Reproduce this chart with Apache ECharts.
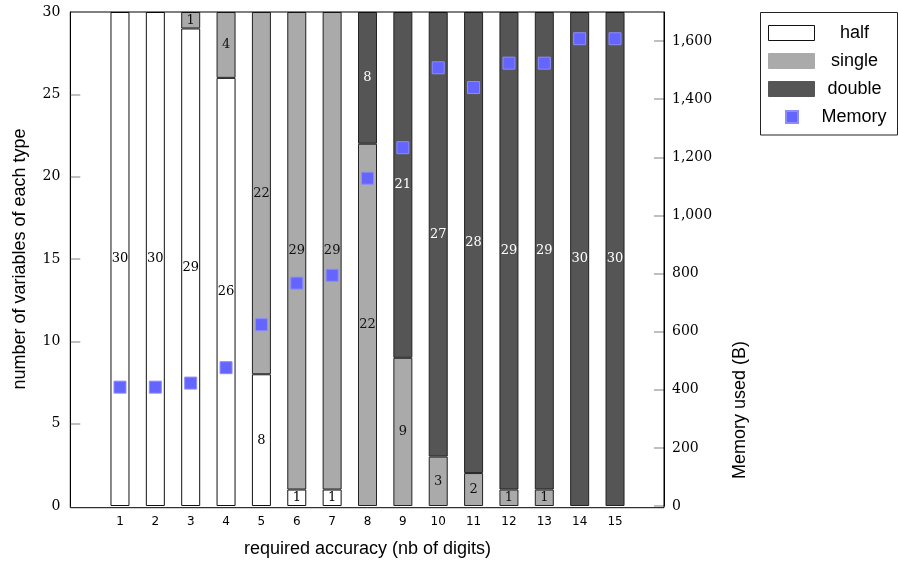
<!DOCTYPE html>
<html>
<head>
<meta charset="utf-8">
<script src="https://cdn.jsdelivr.net/npm/echarts@6/dist/echarts.min.js"></script>
<style>
html,body{margin:0;padding:0;background:#fff;}
#chart{width:898px;height:563px;}
</style>
</head>
<body>
<div id="chart"></div>
<script>
const categories = ['1','2','3','4','5','6','7','8','9','10','11','12','13','14','15'];
const halfCounts   = [30,30,29,26,8,1,1,0,0,0,0,0,0,0,0];
const singleCounts = [0,0,1,4,22,29,29,22,9,3,2,1,1,0,0];
const doubleCounts = [0,0,0,0,0,0,0,8,21,27,28,29,29,30,30];
const memoryBytes  = [409,409,423,476,624,767,794,1128,1233,1508,1440,1524,1524,1608,1608];
const countTicks   = [0,5,10,15,20,25,30];
const memoryTicks  = [0,200,400,600,800,1000,1200,1400,1600];

const serif = 'DejaVu Serif';
const sans = 'Liberation Sans';

function barSeries(name, arr, fill, border, labelColor){
  return {
    name: name, type: 'bar', stack: 'types', barWidth: 19,
    data: arr.map(v => v > 0 ? v : {value: v, itemStyle: {borderWidth: 0, opacity: 0}}),
    itemStyle: {color: fill, borderColor: border, borderWidth: 1},
    label: {
      show: true, position: 'inside', color: labelColor,
      fontFamily: serif, fontSize: 13,
      formatter: p => p.value > 0 ? String(p.value) : ''
    },
    emphasis: {disabled: true}
  };
}

// frame of the plot: 70..664 x 12..507.7 ; category bands inside it
const frameL = 70.3, frameR = 664, frameT = 12, frameB = 507.7;
const gridL = 102.3, gridR = 632.7;

const chart = echarts.init(document.getElementById('chart'), null, {renderer: 'canvas'});
chart.setOption({
  animation: false,
  backgroundColor: '#fff',
  grid: {left: gridL, right: 898 - gridR, top: frameT, bottom: 563 - frameB},
  xAxis: {
    type: 'category', data: categories, boundaryGap: true,
    name: 'required accuracy (nb of digits)', nameLocation: 'middle', nameGap: 34,
    nameTextStyle: {fontFamily: sans, fontSize: 18, color: '#000'},
    axisLine: {show: false},
    axisTick: {show: false},
    splitLine: {show: false},
    axisLabel: {fontFamily: 'DejaVu Sans', fontSize: 12, color: '#000', margin: 10}
  },
  yAxis: [{
    type: 'value', min: 0, max: 30, interval: 5, position: 'left', offset: gridL - frameL,
    name: 'number of variables of each type', nameLocation: 'middle', nameGap: 41, nameRotate: 90,
    nameTextStyle: {fontFamily: sans, fontSize: 18, color: '#000'},
    axisLine: {show: true, lineStyle: {color: '#000', width: 1}},
    axisTick: {show: true, inside: true, length: 10, lineStyle: {color: '#aaa', width: 1.5}, customValues: [5,10,15,20,25]},
    splitLine: {show: false},
    axisLabel: {customValues: countTicks, fontFamily: serif, fontSize: 14, color: '#000', margin: 10}
  }, {
    type: 'value', min: 0, max: 1700, position: 'right', offset: frameR - gridR,
    axisLine: {show: true, lineStyle: {color: '#000', width: 1}},
    axisTick: {show: true, inside: true, length: 10, lineStyle: {color: '#aaa', width: 1.5}, customValues: memoryTicks},
    splitLine: {show: false},
    axisLabel: {customValues: memoryTicks, fontFamily: serif, fontSize: 14, color: '#000', margin: 8,
      formatter: v => Number(v).toLocaleString('en-US')}
  }],
  legend: [{
    orient: 'vertical', left: 768, top: 24, padding: 0, itemGap: 10,
    itemWidth: 46, itemHeight: 15, z: 5,
    data: [
      {name: 'half', icon: 'rect', itemStyle: {color: '#fff', borderColor: '#111', borderWidth: 1, opacity: 1}},
      {name: 'single', icon: 'rect', itemStyle: {color: '#aaaaaa', borderColor: '#aaaaaa', borderWidth: 1, opacity: 1}},
      {name: 'double', icon: 'rect', itemStyle: {color: '#555555', borderColor: '#555555', borderWidth: 1, opacity: 1}}
    ],
    formatter: '{a|{name}}',
    textStyle: {fontFamily: sans, fontSize: 18, color: '#000', lineHeight: 15,
      rich: {a: {width: 70, align: 'center', fontFamily: sans, fontSize: 18, lineHeight: 15, color: '#000'}}}
  }, {
    orient: 'vertical', left: 785, top: 108, padding: 0,
    itemWidth: 12, itemHeight: 12, z: 5,
    data: [{name: 'Memory', icon: 'rect'}],
    formatter: '{a|{name}}',
    textStyle: {fontFamily: sans, fontSize: 18, color: '#000', lineHeight: 12,
      rich: {a: {width: 102, align: 'center', fontFamily: sans, fontSize: 18, lineHeight: 12, color: '#000'}}}
  }],
  graphic: [{
    type: 'rect', z: 10, silent: true,
    shape: {x: frameL, y: frameT, width: frameR - frameL, height: frameB - frameT},
    style: {fill: 'none', stroke: '#000', lineWidth: 1}
  }, {
    type: 'rect', z: 1, silent: true,
    shape: {x: 760.5, y: 12.5, width: 137, height: 122.5},
    style: {fill: '#fff', stroke: '#222', lineWidth: 1}
  }, {
    type: 'text', z: 5, silent: true,
    x: 740, y: 410, rotation: Math.PI / 2,
    style: {text: 'Memory used (B)', fontFamily: sans, fontSize: 18, fill: '#000', align: 'center', verticalAlign: 'middle'}
  }],
  series: [
    barSeries('half', halfCounts, '#ffffff', '#111', '#000'),
    barSeries('single', singleCounts, '#aaaaaa', '#222', '#111'),
    barSeries('double', doubleCounts, '#555555', '#222', '#ffffff'),
    {
      name: 'Memory', type: 'scatter', yAxisIndex: 1, symbol: 'rect', symbolSize: 12, z: 5,
      data: memoryBytes,
      itemStyle: {color: '#6464ff', borderColor: '#8c8cff', borderWidth: 1, opacity: 1},
      emphasis: {disabled: true}
    }
  ]
});
</script>
</body>
</html>
